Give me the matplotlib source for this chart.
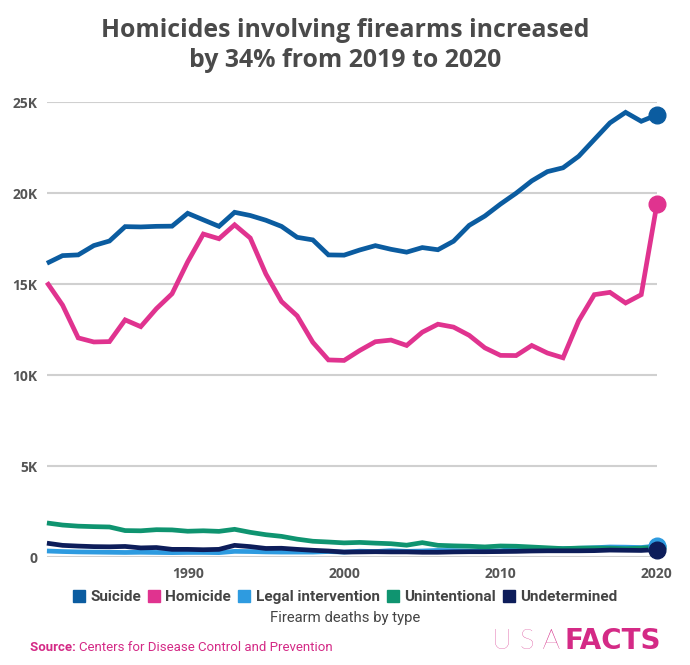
import matplotlib
matplotlib.use("Agg")
import matplotlib.pyplot as plt
from matplotlib.lines import Line2D

# Firearm deaths by type, US, 1981-2020
years = list(range(1981, 2021))

suicide = [16139, 16560, 16600, 17113, 17363, 18153, 18136, 18169, 18178, 18885,
           18526, 18169, 18940, 18765, 18503, 18166, 17566, 17424, 16599, 16586,
           16869, 17108, 16907, 16750, 17002, 16883, 17352, 18223, 18735, 19392,
           19990, 20666, 21175, 21386, 22018, 22938, 23854, 24432, 23941, 24292]

homicide = [15089, 13841, 12040, 11815, 11836, 13029, 12657, 13645, 14464, 16218,
            17746, 17488, 18253, 17527, 15551, 14037, 13252, 11798, 10828, 10801,
            11348, 11829, 11920, 11624, 12352, 12791, 12632, 12179, 11493, 11078,
            11068, 11622, 11208, 10945, 12979, 14415, 14542, 13958, 14414, 19384]

legal = [330, 300, 280, 270, 260, 250, 260, 250, 240, 250,
         250, 240, 310, 300, 280, 270, 270, 270, 300, 270,
         320, 300, 350, 310, 330, 360, 350, 330, 330, 340,
         450, 410, 460, 460, 480, 510, 550, 540, 520, 610]

unintentional = [1871, 1756, 1695, 1668, 1649, 1452, 1440, 1501, 1489, 1416,
                 1441, 1409, 1521, 1356, 1225, 1134, 981, 866, 824, 776,
                 802, 762, 730, 649, 789, 642, 613, 592, 554, 606,
                 591, 548, 505, 461, 489, 495, 486, 458, 486, 535]

undetermined = [760, 640, 600, 570, 560, 580, 500, 520, 420, 420,
                400, 420, 640, 570, 470, 480, 420, 370, 330, 270,
                280, 290, 280, 280, 260, 260, 280, 290, 290, 300,
                310, 330, 340, 340, 340, 350, 380, 370, 360, 410]

names = ["Suicide", "Homicide", "Legal intervention", "Unintentional", "Undetermined"]
colors = ["#0b5ca0", "#e0338f", "#2e9be0", "#0f9470", "#0d1d5a"]

plt.rcParams["font.family"] = ["Open Sans", "DejaVu Sans"]
narrow = ["Roboto", "DejaVu Sans"]

fig = plt.figure(figsize=(6.9, 6.65), dpi=100)
ax = fig.add_axes([0.068, 0.1624, 0.884, 0.6842])

series = [suicide, homicide, legal, unintentional, undetermined]
# draw bottom series first so the big lines sit on top
order = [3, 2, 4, 1, 0]
for i in order:
    ax.plot(years, series[i], color=colors[i], lw=3.4, solid_joinstyle="miter",
            solid_capstyle="butt", zorder=3 + i * 0.1, clip_on=False)
    ax.plot(years[-1], series[i][-1], "o", color=colors[i], ms=12,
            zorder=4, clip_on=False)

ax.set_xlim(1981, 2020)
ax.set_ylim(0, 25000)
ax.set_yticks([0, 5000, 10000, 15000, 20000, 25000])
ax.set_yticklabels(["0", "5K", "10K", "15K", "20K", "25K"])
ax.set_xticks([1990, 2000, 2010, 2020])
ax.grid(axis="y", color="#d0d0d0", lw=1.5)
ax.set_axisbelow(True)
for s in ax.spines.values():
    s.set_visible(False)
ax.tick_params(length=0, labelsize=10, labelcolor="#555555", pad=7)
for lab in ax.get_xticklabels() + ax.get_yticklabels():
    lab.set_fontweight("bold")

fig.text(0.5, 0.973, "Homicides involving firearms increased\nby 34% from 2019 to 2020",
         ha="center", va="top", fontsize=17.9, fontweight="bold", color="#4a4a4a",
         linespacing=1.28)

handles = [Line2D([], [], marker="s", ls="", color=c, ms=8) for c in colors]
leg = fig.legend(handles, names, loc="center", bbox_to_anchor=(0.5, 0.102),
                 ncol=5, frameon=False, handletextpad=0.35, columnspacing=0.45,
                 handlelength=0.8,
                 prop={"size": 11, "weight": "bold", "family": narrow})
for t in leg.get_texts():
    t.set_color("#444444")

fig.text(0.5, 0.07, "Firearm deaths by type", ha="center", va="center",
         fontsize=10.7, color="#444444", family=narrow)

fig.canvas.draw()
r = fig.canvas.get_renderer()

src = fig.text(0.043, 0.026, "Source: ", ha="left", va="center", fontsize=9.5,
               fontweight="bold", color="#d42a86", family=narrow)
bb = src.get_window_extent(r)
fig.text(bb.x1 / fig.bbox.width, 0.026, "Centers for Disease Control and Prevention",
         ha="left", va="center", fontsize=9.5, color="#d42a86", family=narrow)

usa = fig.text(0.713, 0.036, "U S A", ha="left", va="center", fontsize=20,
               fontweight="light", color="#d42a86", family=["Lato", "DejaVu Sans"])
bb = usa.get_window_extent(r)
fig.text(bb.x1 / fig.bbox.width + 0.006, 0.036, "FACTS", ha="left", va="center",
         fontsize=20, fontweight="bold", color="#d42a86",
         family=["DejaVu Sans"])

fig.savefig("out.png", dpi=100, facecolor="white")
